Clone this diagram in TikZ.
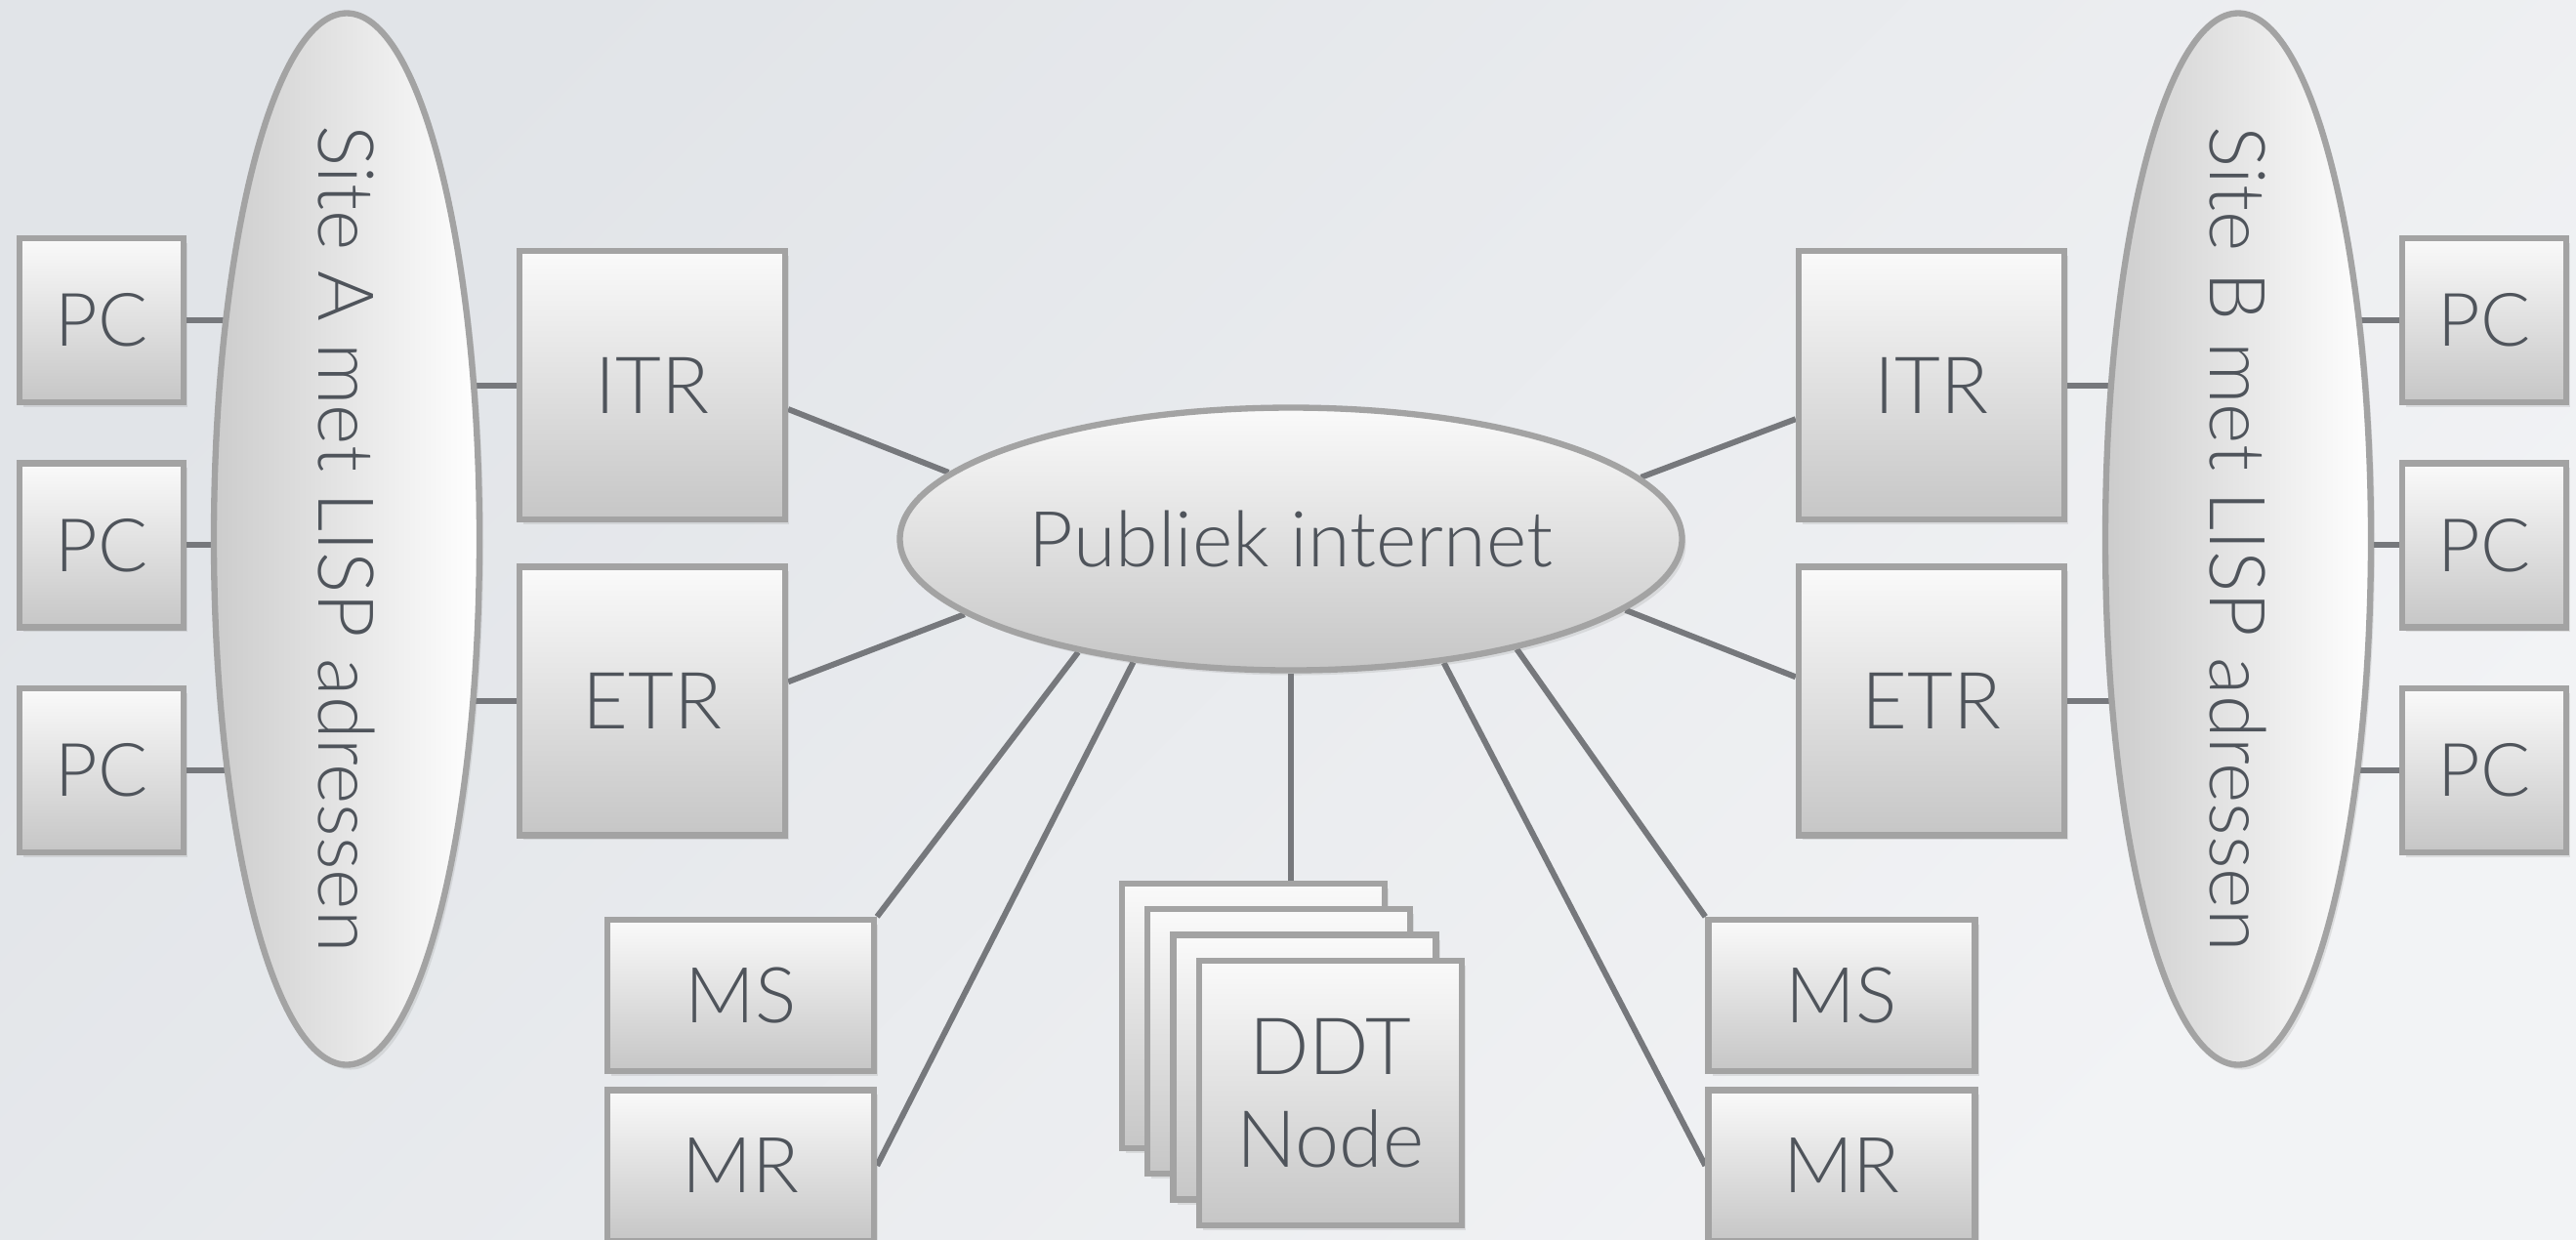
\documentclass[tikz,border=0pt]{standalone}
\usepackage{fontspec}
\setmainfont{Lato Light}
\usetikzlibrary{positioning,shapes.geometric,shadows}

\definecolor{inktext}{HTML}{4F545B}
\definecolor{wirecol}{HTML}{76787C}
\definecolor{rim}{HTML}{A3A3A3}
\definecolor{boxtop}{HTML}{FAFAFA}
\definecolor{boxbot}{HTML}{C6C6C6}
\definecolor{siteleft}{HTML}{CCCCCC}
\definecolor{bgdark}{HTML}{E1E4E8}
\definecolor{bglight}{HTML}{F2F3F5}

\pgfdeclarelayer{bg}
\pgfdeclarelayer{wires}
\pgfsetlayers{bg,wires,main}

\tikzset{
  box/.style={draw=rim,line width=1.8pt,top color=boxtop,bottom color=boxbot,
    text=inktext,inner sep=0pt,align=center,
    drop shadow={opacity=0.18,shadow xshift=0.04cm,shadow yshift=-0.05cm}},
  pcbox/.style={box,minimum width=1.68cm,minimum height=1.68cm,font=\fontsize{21.5}{25}\selectfont},
  xtrbox/.style={box,minimum width=2.72cm,minimum height=2.75cm,font=\fontsize{23}{27}\selectfont},
  mapbox/.style={box,minimum width=2.73cm,minimum height=1.55cm,font=\fontsize{22.5}{27}\selectfont},
  ddtbox/.style={box,minimum width=2.69cm,minimum height=2.71cm,font=\fontsize{23}{27}\selectfont},
  site/.style={box,ellipse,left color=siteleft,right color=white,rotate=-90,
    minimum width=10.77cm,minimum height=2.72cm,font=\fontsize{22.5}{27}\selectfont},
  cloud/.style={box,ellipse,minimum width=8.01cm,minimum height=2.69cm,font=\fontsize{22.5}{27}\selectfont},
  wire/.style={draw=wirecol,line width=1.7pt}
}

\begin{document}
\begin{tikzpicture}[node distance=0.56cm]
  \useasboundingbox (0,0) rectangle (26.38,-12.69);
  \begin{pgfonlayer}{bg}
    \shade[top color=bgdark,bottom color=bglight,shading angle=45] (0,0) rectangle (26.38,-12.69);
  \end{pgfonlayer}

  % site A
  \node[site] (siteA) at (3.55,-5.52) {\makebox[0pt]{Site A met LISP adressen}};
  \node[pcbox] (pcA1) at (1.04,-3.28) {PC};
  \node[pcbox,below=of pcA1] (pcA2) {PC};
  \node[pcbox,below=of pcA2] (pcA3) {PC};
  \node[xtrbox] (itrA) at (6.68,-3.945) {ITR};
  \node[xtrbox,below=0.42cm of itrA] (etrA) {ETR};
  \node[mapbox] (msA) at (7.585,-10.195) {MS};
  \node[mapbox,below=0.13cm of msA] (mrA) {MR};

  % core
  \node[cloud] (inet) at (13.22,-5.52) {Publiek internet};
  \node[ddtbox] (ddt1) at (12.835,-10.405) {};
  \node[ddtbox] (ddt2) at ([shift={(0.263,-0.263)}]ddt1) {};
  \node[ddtbox] (ddt3) at ([shift={(0.263,-0.263)}]ddt2) {};
  \node[ddtbox] (ddt4) at ([shift={(0.263,-0.263)}]ddt3) {DDT\\Node};

  % site B
  \node[site] (siteB) at (22.92,-5.52) {\makebox[0pt]{Site B met LISP adressen}};
  \node[pcbox] (pcB1) at (25.44,-3.28) {PC};
  \node[pcbox,below=of pcB1] (pcB2) {PC};
  \node[pcbox,below=of pcB2] (pcB3) {PC};
  \node[xtrbox] (itrB) at (19.78,-3.945) {ITR};
  \node[xtrbox,below=0.42cm of itrB] (etrB) {ETR};
  \node[mapbox] (msB) at (18.86,-10.195) {MS};
  \node[mapbox,below=0.13cm of msB] (mrB) {MR};

  \begin{pgfonlayer}{wires}
    \draw[wire] (pcA1.east) -- (pcA1 -| siteA.center);
    \draw[wire] (pcA2.east) -- (pcA2 -| siteA.center);
    \draw[wire] (pcA3.east) -- (pcA3 -| siteA.center);
    \draw[wire] (itrA.west) -- (itrA -| siteA.center);
    \draw[wire] (etrA.west) -- (etrA -| siteA.center);
    \draw[wire] (itrA.-10) -- (inet.169);
    \draw[wire] (etrA.8) -- (inet.193);
    \draw[wire] (inet.208) -- (msA.north east);
    \draw[wire] (inet.218) -- (mrA.east);
    \draw[wire] (inet.south) -- (inet.south |- ddt1.north);
    \draw[wire] (inet.-26) -- (msB.north west);
    \draw[wire] (inet.-39) -- (mrB.west);
    \draw[wire] (itrB.194) -- (inet.10);
    \draw[wire] (etrB.170) -- (inet.-12);
    \draw[wire] (itrB.east) -- (itrB -| siteB.center);
    \draw[wire] (etrB.east) -- (etrB -| siteB.center);
    \draw[wire] (pcB1.west) -- (pcB1 -| siteB.center);
    \draw[wire] (pcB2.west) -- (pcB2 -| siteB.center);
    \draw[wire] (pcB3.west) -- (pcB3 -| siteB.center);
  \end{pgfonlayer}
\end{tikzpicture}
\end{document}
